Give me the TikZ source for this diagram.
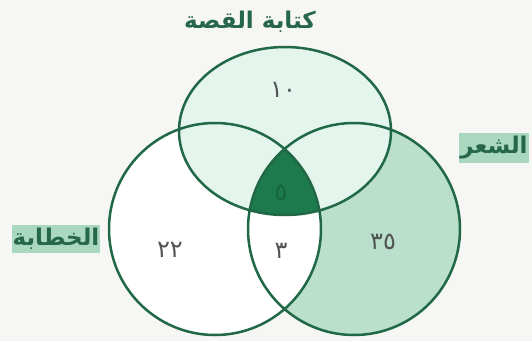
\documentclass[tikz,border=0pt]{standalone}
\usepackage{fontspec}
\newfontfamily\arabicfont[Script=Arabic]{DejaVu Sans}
\TeXXeTstate=1
\definecolor{pagebg}{RGB}{246,246,244}
\definecolor{setline}{RGB}{32,104,70}
\definecolor{storymint}{RGB}{228,245,237}
\definecolor{poetrygreen}{RGB}{186,224,205}
\definecolor{coregreen}{RGB}{28,122,76}
\definecolor{coredigit}{RGB}{22,100,62}
\definecolor{tagfill}{RGB}{170,215,192}
\definecolor{titlegreen}{RGB}{38,102,74}
\definecolor{countgrey}{RGB}{80,84,82}
\usetikzlibrary{positioning}

\begin{document}
\begin{tikzpicture}[x=1pt, y=-1pt,
    count/.style={font=\arabicfont\fontsize{24}{24}\selectfont, text=countgrey, inner sep=0pt},
    tag/.style={fill=tagfill, text=titlegreen, font=\arabicfont\bfseries\fontsize{23}{23}\selectfont,
                inner xsep=1pt, inner ysep=3pt}]
    \useasboundingbox[fill=pagebg] (0,0) rectangle (532,341);
    \def\leftset{(215,229) circle[radius=106]}
    \def\rightset{(354,229) circle[radius=106]}
    \def\topset{(285,131) ellipse[x radius=106, y radius=84]}
    % regions
    \fill[poetrygreen] \rightset;
    \fill[white] \leftset;
    \fill[storymint] \topset;
    \begin{scope}
      \clip \leftset;
      \clip \rightset;
      \fill[coregreen] \topset;
    \end{scope}
    \draw[setline, line width=2.5pt] \topset \leftset \rightset;
    % set names
    \node[font=\arabicfont\bfseries\fontsize{23}{23}\selectfont, text=titlegreen] (story) at (250,22) {\beginR كتابة القصة\endR};
    \node[tag] (poetry) at (494,148) {\beginR الشعر\endR};
    \node[tag] (speech) at (56,239) {\beginR الخطابة\endR};
    % counts
    \node[count] (onlystory) at (283,90) {١٠};
    \node[count, text=coredigit] (allthree) at (281,193) {٥};
    \node[count] (onlyspeech) at (170,250) {٢٢};
    \node[count] (speechpoetry) at (281,251) {٣};
    \node[count] (onlypoetry) at (383,242) {٣٥};
\end{tikzpicture}
\end{document}
